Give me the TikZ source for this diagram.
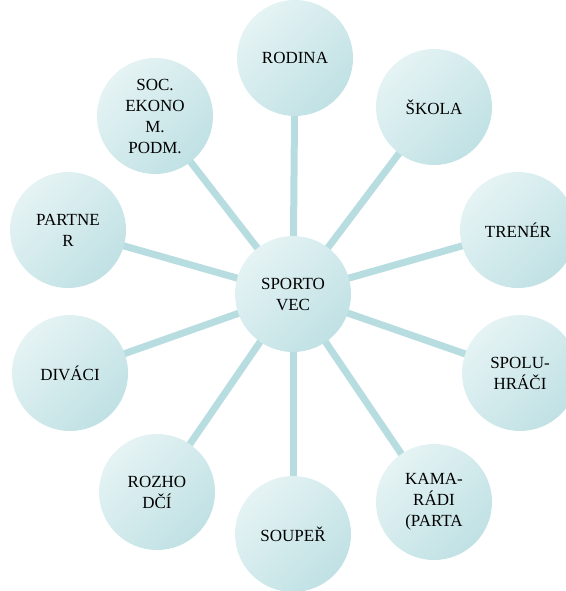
\documentclass[tikz,border=0pt]{standalone}
\usepackage{fontspec}
\setmainfont{Liberation Serif}
\usetikzlibrary{backgrounds}
\definecolor{bubbleLight}{HTML}{E5F3F4}
\definecolor{bubbleMid}{HTML}{DAEEF0}
\definecolor{bubbleDark}{HTML}{C0E1E4}
\definecolor{spokeColor}{HTML}{B8DDE1}
\tikzset{
  bubble/.style={circle, minimum size=116pt, inner sep=0pt, align=center,
    top color=bubbleLight, middle color=bubbleMid, bottom color=bubbleDark,
    shading angle=45, font=\fontsize{17}{21}\selectfont},
  spokeline/.style={draw=spokeColor, line width=7pt}
}
\newcommand{\spoke}[1]
{
\draw[spokeline] (Sportovec.center) -- (#1.center);
}

\begin{document}
\begin{tikzpicture}[
  x=1pt, y=-1pt
  % coordinates in pixels of the page, y down
  ]
  \useasboundingbox (0,0) rectangle (565,591);

  \node[bubble] (Sportovec) at (293,294) {SPORTO\\VEC};

  \node[bubble] (Rodina)    at (295,58)  {RODINA};
  \node[bubble] (Skola)     at (434,107) {ŠKOLA};
  \node[bubble] (Trener)    at (518,230) {TRENÉR};
  \node[bubble] (Spoluhraci) at (520,373) {SPOLU-\\HRÁČI};
  \node[bubble] (Kamaradi)  at (434,502) {KAMA-\\RÁDI\\(PARTA};

  \node[bubble] (Souper)    at (293,534) {SOUPEŘ};
  \node[bubble] (Rozhodci)  at (157,492) {ROZHO\\DČÍ};
  \node[bubble] (Divaci)    at (70,373)  {DIVÁCI};
  \node[bubble] (Partner)   at (68,230)  {PARTNE\\R};
  \node[bubble] (SocEkonom) at (155,116) {SOC.\\EKONO\\M.\\PODM.};

  \begin{scope}[on background layer]
    \spoke{Rodina}
    \spoke{Skola}
    \spoke{Trener}
    \spoke{Spoluhraci}
    \spoke{Kamaradi}
    \spoke{Souper}
    \spoke{Rozhodci}
    \spoke{Divaci}
    \spoke{Partner}
    \spoke{SocEkonom}
  \end{scope}

\end{tikzpicture}
\end{document}
